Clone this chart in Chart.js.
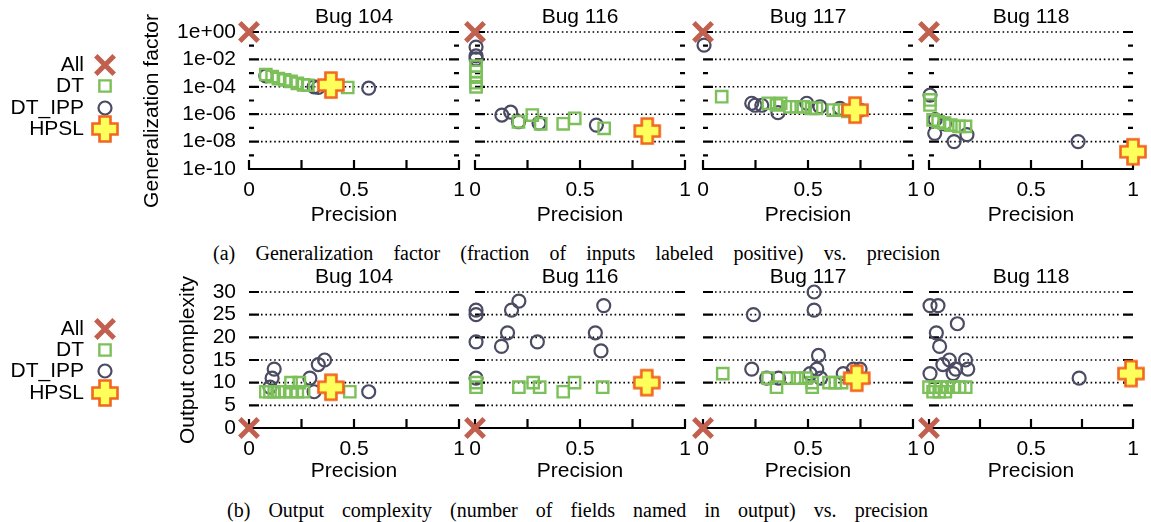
<!DOCTYPE html>
<html>
<head>
<meta charset="utf-8">
<script src="https://cdn.jsdelivr.net/npm/chart.js@4.4.1/dist/chart.umd.min.js"></script>
<style>
  body { margin: 0; background: #fff; }
  #wrap { position: relative; width: 1151px; height: 522px; overflow: hidden; }
  #wrap canvas { position: absolute; left: 0; top: 0; }
  .cap { position: absolute; font-family: "Liberation Serif", "Times New Roman", serif; font-size: 20px; line-height: 22px; color: #000; white-space: nowrap; }
</style>
</head>
<body>
<div id="wrap">
  <div class="cap" id="capA" style="top:242px">(a) Generalization factor (fraction of inputs labeled positive) vs. precision</div>
  <div class="cap" id="capB" style="top:499px">(b) Output complexity (number of fields named in output) vs. precision</div>
</div>
<script>
var bugNames = ["Bug 104", "Bug 116", "Bug 117", "Bug 118"];
var seriesNames = ["All", "DT", "DT_IPP", "HPSL"];
var precisionTicks = [0, 0.25, 0.5, 0.75, 1];
var genTicks = [1, 1e-1, 1e-2, 1e-3, 1e-4, 1e-5, 1e-6, 1e-7, 1e-8, 1e-9, 1e-10];
var complexityTicks = [0, 5, 10, 15, 20, 25, 30];

// generalization factor: [precision, fraction of inputs labeled positive], one list per bug
var genAll = [[[0, 1]], [[0, 1]], [[0, 1]], [[0, 1]]];
var genDT = [
  [[0.08, 7.9e-4], [0.11, 5.6e-4], [0.14, 4.0e-4], [0.17, 3.2e-4], [0.2, 2.5e-4], [0.23, 1.8e-4], [0.26, 1.4e-4], [0.28, 1.3e-4], [0.47, 8.9e-5]],
  [[0.005, 3.2e-3], [0.005, 1.3e-3], [0.005, 5e-4], [0.005, 2e-4], [0.005, 1e-4], [0.207, 2.8e-7], [0.273, 8.7e-7], [0.313, 2e-7], [0.42, 2e-7], [0.475, 5e-7], [0.615, 9.3e-8]],
  [[0.089, 1.9e-5], [0.311, 6.3e-6], [0.35, 4.7e-6], [0.37, 6.3e-6], [0.414, 3.5e-6], [0.446, 3.5e-6], [0.478, 3.5e-6], [0.517, 2.7e-6], [0.54, 2.7e-6], [0.62, 2e-6], [0.65, 2e-6], [0.69, 1.6e-6]],
  [[0.005, 1.1e-5], [0.005, 4.7e-6], [0.02, 3.8e-7], [0.045, 2.8e-7], [0.076, 2.2e-7], [0.107, 1.6e-7], [0.147, 1.3e-7], [0.179, 1.3e-7]]
];
var genIPP = [
  [[0.08, 6.3e-4], [0.31, 1e-4], [0.33, 8.9e-5], [0.57, 7.9e-5]],
  [[0.005, 7.9e-2], [0.005, 1.8e-2], [0.005, 1.1e-2], [0.128, 8.7e-7], [0.17, 1.4e-6], [0.207, 2.8e-7], [0.305, 2.2e-7], [0.578, 1.6e-7]],
  [[0.005, 0.11], [0.232, 6.3e-6], [0.248, 4.5e-6], [0.28, 4.5e-6], [0.357, 1.3e-6], [0.494, 6.3e-6], [0.557, 3.5e-6], [0.652, 2.7e-6], [0.748, 2e-6]],
  [[0.005, 2.5e-5], [0.03, 4e-7], [0.076, 2e-7], [0.028, 4e-8], [0.123, 1e-8], [0.186, 3.2e-8], [0.731, 1e-8]]
];
var genHPSL = [[[0.39, 1.35e-4]], [[0.82, 5.9e-8]], [[0.724, 2e-6]], [[1.0, 1.8e-9]]];

// output complexity: [precision, number of fields named in output], one list per bug
var cxAll = [[[0, 0]], [[0, 0]], [[0, 0]], [[0, 0]]];
var cxDT = [
  [[0.08, 8], [0.1, 8], [0.12, 8], [0.14, 8], [0.17, 8], [0.2, 8], [0.23, 8], [0.26, 8], [0.2, 10], [0.24, 10], [0.48, 8]],
  [[0.005, 10], [0.005, 9], [0.209, 9], [0.277, 10], [0.308, 9], [0.42, 8], [0.474, 10], [0.608, 9]],
  [[0.094, 12], [0.31, 11], [0.35, 9], [0.41, 11], [0.45, 11], [0.49, 11], [0.52, 10], [0.52, 9], [0.6, 10], [0.63, 10], [0.66, 10]],
  [[0.0, 9], [0.03, 9], [0.06, 9], [0.09, 9], [0.12, 9], [0.15, 9], [0.18, 9], [0.02, 8], [0.05, 8], [0.08, 8]]
];
var cxIPP = [
  [[0.12, 13], [0.11, 11], [0.29, 11], [0.31, 8], [0.33, 14], [0.36, 15], [0.57, 8], [0.1, 9]],
  [[0.005, 26], [0.005, 25], [0.005, 19], [0.005, 11], [0.126, 18], [0.155, 21], [0.174, 26], [0.209, 28], [0.297, 19], [0.573, 21], [0.6, 17], [0.613, 27]],
  [[0.529, 30], [0.529, 26], [0.24, 25], [0.55, 16], [0.232, 13], [0.542, 13], [0.303, 11], [0.36, 11], [0.51, 12], [0.56, 11], [0.668, 12], [0.716, 13], [0.748, 13]],
  [[0.005, 27], [0.044, 27], [0.139, 23], [0.036, 21], [0.052, 18], [0.1, 15], [0.179, 15], [0.068, 14], [0.131, 13], [0.19, 13], [0.005, 12], [0.118, 12], [0.736, 11]]
];
var cxHPSL = [[[0.39, 9]], [[0.818, 10]], [[0.732, 11]], [[0.99, 12]]];

var W = 1151, H = 522;
var colX = [249, 475, 703, 929];
var panelW = 210;
var rows = [
  { top: 32, bottom: 169, xH: 61, title: "Generalization factor", titleX: 152, titleY: 111, legendY: [65, 86, 108, 129] },
  { top: 292, bottom: 428, xH: 58, title: "Output complexity", titleX: 188, titleY: 360, legendY: [329, 350, 371, 393] }
];
var FONT = "'Liberation Sans', Arial, Helvetica, sans-serif";
var font = { family: FONT, size: 21 };

var colorAll = "#c2604f";
var colorDT = "#7cc05a";
var colorIPP = "#4b4b63";

// fat yellow plus for HPSL
function plusImage() {
  var c = document.createElement("canvas");
  c.width = 30; c.height = 30;
  var g = c.getContext("2d");
  var m = 12.5, a = 5.5, cx = 15, cy = 15;
  g.beginPath();
  g.moveTo(cx - a, cy - m); g.lineTo(cx + a, cy - m); g.lineTo(cx + a, cy - a);
  g.lineTo(cx + m, cy - a); g.lineTo(cx + m, cy + a); g.lineTo(cx + a, cy + a);
  g.lineTo(cx + a, cy + m); g.lineTo(cx - a, cy + m); g.lineTo(cx - a, cy + a);
  g.lineTo(cx - m, cy + a); g.lineTo(cx - m, cy - a); g.lineTo(cx - a, cy - a);
  g.closePath();
  g.fillStyle = "#ffff5c";
  g.fill();
  g.lineWidth = 2.6;
  g.strokeStyle = "#f2661f";
  g.stroke();
  return c;
}
var plus = plusImage();

var styles = [
  { pointStyle: "crossRot", radius: 13, color: colorAll, width: 5, order: 1 },
  { pointStyle: "rect", radius: 8, color: colorDT, width: 2.4, order: 2 },
  { pointStyle: "circle", radius: 6.5, color: colorIPP, width: 2.2, order: 3 },
  { pointStyle: plus, radius: 12, color: "#f2661f", width: 0, order: 0 }
];

function pts(arr) {
  return arr.map(function (p) { return { x: p[0], y: p[1] }; });
}

function makeDatasets(lists) {
  return lists.map(function (list, i) {
    var s = styles[i];
    return {
      label: seriesNames[i],
      data: pts(list),
      order: s.order,
      clip: false,
      pointStyle: s.pointStyle,
      pointRadius: s.radius,
      pointBorderColor: s.color,
      pointBackgroundColor: "rgba(0,0,0,0)",
      pointBorderWidth: s.width
    };
  });
}

function expLabel(v) {
  var e = Math.round(Math.log10(v));
  if (e % 2 !== 0) return "";
  return "1e" + (e < 0 ? "-" : "+") + String(Math.abs(e)).padStart(2, "0");
}

// gnuplot-like frame: inward ticks both sides, dotted grid, bottom border
var framePlugin = {
  id: "frame",
  beforeDatasetsDraw: function (chart) {
    var ctx = chart.ctx, a = chart.chartArea, x = chart.scales.x, y = chart.scales.y;
    var isLog = y.type === "logarithmic";
    ctx.save();
    ctx.strokeStyle = "#000";
    y.ticks.forEach(function (t) {
      var py = y.getPixelForValue(t.value);
      var major = isLog ? Math.round(Math.log10(t.value)) % 2 === 0 : true;
      var len = major ? 10 : 5;
      ctx.setLineDash([]);
      ctx.lineWidth = 2.2;
      ctx.beginPath();
      ctx.moveTo(a.left, py); ctx.lineTo(a.left + len, py);
      ctx.moveTo(a.right - len, py); ctx.lineTo(a.right, py);
      ctx.stroke();
      if (major && t.value !== y.min) {
        ctx.lineWidth = 1.6;
        ctx.setLineDash([1.6, 2.8]);
        ctx.beginPath();
        ctx.moveTo(a.left + len + 2, py); ctx.lineTo(a.right - len - 2, py);
        ctx.stroke();
      }
    });
    ctx.setLineDash([]);
    ctx.lineWidth = 2.2;
    ctx.beginPath();
    ctx.moveTo(a.left - 1, a.bottom); ctx.lineTo(a.right + 1, a.bottom);
    x.ticks.forEach(function (t) {
      var px = x.getPixelForValue(t.value);
      ctx.moveTo(px, a.bottom); ctx.lineTo(px, a.bottom - 9);
    });
    ctx.stroke();
    ctx.restore();
  }
};

// y title and legend at the left of each row
function sidePlugin(row) {
  return {
    id: "side",
    afterDraw: function (chart) {
      var ctx = chart.ctx;
      ctx.save();
      ctx.fillStyle = "#000";
      ctx.font = "21px " + FONT;
      ctx.textAlign = "center";
      ctx.textBaseline = "middle";
      ctx.translate(rows[row].titleX, rows[row].titleY);
      ctx.rotate(-Math.PI / 2);
      ctx.fillText(rows[row].title, 0, 0);
      ctx.restore();

      ctx.save();
      ctx.font = "21px " + FONT;
      ctx.textAlign = "right";
      ctx.textBaseline = "middle";
      rows[row].legendY.forEach(function (ly, i) {
        ctx.fillStyle = "#000";
        ctx.fillText(seriesNames[i], 84, ly);
        var s = styles[i];
        ctx.strokeStyle = s.color;
        ctx.fillStyle = "rgba(0,0,0,0)";
        ctx.lineWidth = s.width;
        Chart.helpers.drawPoint(ctx, { pointStyle: s.pointStyle, radius: s.radius, rotation: 0, borderWidth: s.width }, 105, ly);
      });
      ctx.restore();
    }
  };
}

function makePanel(row, col) {
  var r = rows[row];
  var canvas = document.createElement("canvas");
  canvas.width = W; canvas.height = H;
  document.getElementById("wrap").appendChild(canvas);

  var lists = row === 0
    ? [genAll[col], genDT[col], genIPP[col], genHPSL[col]]
    : [cxAll[col], cxDT[col], cxIPP[col], cxHPSL[col]];

  // first column keeps a real y-axis box so its labels are not clipped
  var yWidth = col === 0 ? colX[0] : 0;
  var padLeft = colX[col] - yWidth;

  var yScale = row === 0 ? {
    type: "logarithmic", min: 1e-10, max: 1,
    afterBuildTicks: function (s) { s.ticks = genTicks.map(function (v) { return { value: v }; }); },
    ticks: { display: col === 0, padding: 13, color: "#000", font: font, autoSkip: false, callback: expLabel }
  } : {
    type: "linear", min: 0, max: 30,
    afterBuildTicks: function (s) { s.ticks = complexityTicks.map(function (v) { return { value: v }; }); },
    ticks: { display: col === 0, padding: 13, color: "#000", font: font, autoSkip: false }
  };
  yScale.afterFit = function (s) { s.width = yWidth; };
  yScale.grid = { display: false, drawTicks: false };
  yScale.border = { display: false };

  var plugins = [framePlugin];
  if (col === 0) plugins.push(sidePlugin(row));

  new Chart(canvas, {
    type: "scatter",
    data: { datasets: makeDatasets(lists) },
    options: {
      responsive: false,
      animation: false,
      events: [],
      layout: { padding: { left: padLeft, right: W - colX[col] - panelW, top: r.top - 27.2, bottom: H - r.bottom - r.xH } },
      plugins: {
        legend: { display: false },
        tooltip: { enabled: false },
        title: { display: true, fullSize: false, text: bugNames[col], color: "#000", font: { family: FONT, size: 21, weight: "normal" }, padding: { top: 0, bottom: 2 } }
      },
      scales: {
        x: {
          type: "linear", min: 0, max: 1,
          afterBuildTicks: function (s) { s.ticks = precisionTicks.map(function (v) { return { value: v }; }); },
          afterFit: function (s) { s.height = r.xH; },
          grid: { display: false, drawTicks: false },
          border: { display: false },
          ticks: {
            autoSkip: false, maxRotation: 0, padding: 9, color: "#000", font: font,
            callback: function (v) { return v === 0 ? "0" : v === 0.5 ? "0.5" : v === 1 ? "1" : ""; }
          },
          title: { display: true, text: "Precision", color: "#000", font: font, padding: { top: 0, bottom: 2 } }
        },
        y: yScale
      }
    },
    plugins: plugins
  });
}

for (var row = 0; row < 2; row++) {
  for (var col = 0; col < 4; col++) makePanel(row, col);
}

function fitCaption(el, left, right) {
  el.style.wordSpacing = "0px";
  el.style.left = left + "px";
  var w = el.getBoundingClientRect().width;
  var gaps = el.textContent.split(" ").length - 1;
  el.style.wordSpacing = ((right - left - w) / gaps) + "px";
}
fitCaption(document.getElementById("capA"), 213, 940);
fitCaption(document.getElementById("capB"), 227, 928);
</script>
</body>
</html>
